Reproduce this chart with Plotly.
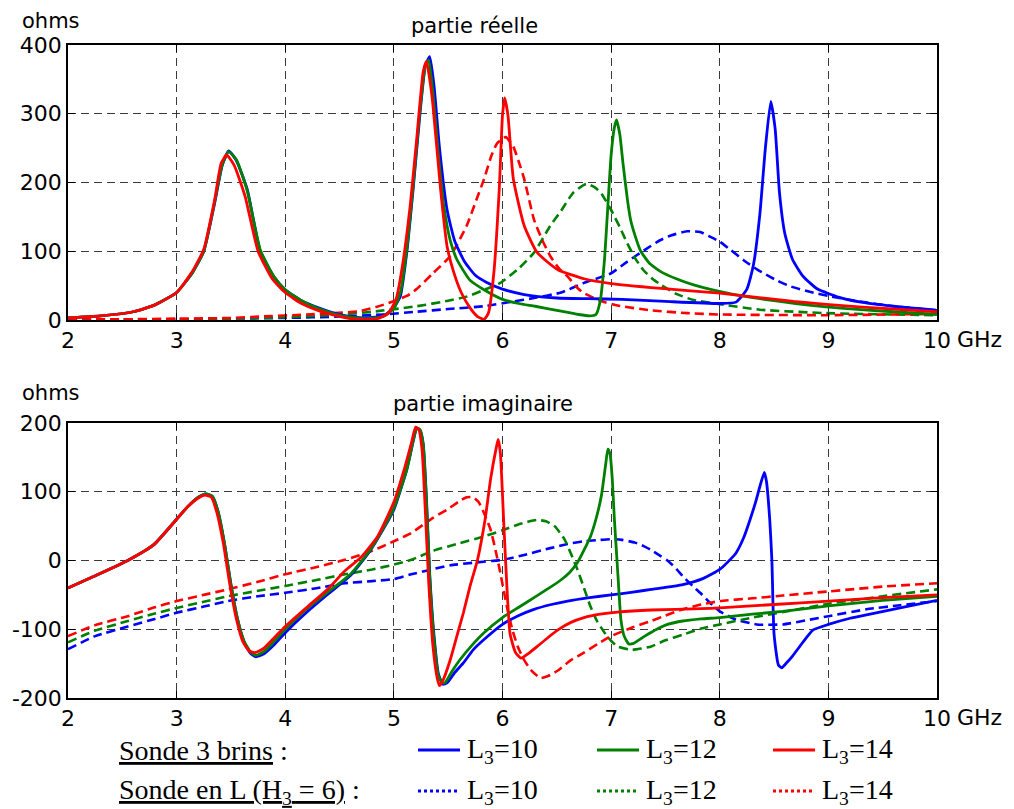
import plotly.graph_objects as go
from plotly.subplots import make_subplots

# ---------------- data: real part (ohms) ----------------
re_b10_x = [2.0, 2.3, 2.6, 2.8, 3.0, 3.15, 3.25, 3.35, 3.42, 3.48, 3.55, 3.65, 3.77, 3.9, 4.0, 4.15, 4.3, 4.45, 4.6, 4.75, 4.9,
            5.0, 5.06, 5.12, 5.18, 5.24, 5.29, 5.33, 5.37, 5.42, 5.49, 5.56, 5.65, 5.75, 5.85, 6.0, 6.2, 6.5, 6.8, 7.1, 7.5,
            8.0, 8.15, 8.25, 8.31, 8.37, 8.42, 8.47, 8.51, 8.55, 8.6, 8.67, 8.77, 8.9, 9.1, 9.3, 9.6, 10.0]
re_b10_y = [3, 6, 12, 22, 40, 70, 100, 170, 225, 246, 232, 190, 100, 62, 44, 28, 18, 10, 5, 3, 6,
            18, 35, 100, 195, 300, 370, 383, 340, 250, 160, 115, 85, 65, 55, 45, 37, 32, 31, 30, 27,
            24, 26, 45, 80, 155, 250, 318, 278, 185, 125, 88, 63, 45, 33, 26, 20, 14]

re_g12_x = [2.0, 2.3, 2.6, 2.8, 3.0, 3.15, 3.25, 3.35, 3.42, 3.48, 3.55, 3.65, 3.77, 3.9, 4.0, 4.15, 4.3, 4.45, 4.6, 4.75, 4.9,
            5.0, 5.06, 5.12, 5.18, 5.24, 5.29, 5.32, 5.36, 5.41, 5.46, 5.52, 5.58, 5.7, 5.83, 6.0, 6.15, 6.3, 6.5, 6.7, 6.8,
            6.86, 6.9, 6.94, 6.97, 7.0, 7.03, 7.05, 7.08, 7.11, 7.15, 7.18, 7.23, 7.27, 7.35, 7.46, 7.6, 7.76, 8.07, 8.37,
            8.7, 8.98, 9.3, 9.6, 10.0]
re_g12_y = [3, 6, 12, 22, 40, 70, 100, 172, 226, 245, 233, 188, 102, 62, 44, 28, 17, 9, 4, 2, 5,
            17, 40, 105, 200, 305, 370, 378, 330, 240, 166, 115, 88, 58, 44, 30, 24, 20, 14, 8, 6,
            8, 28, 90, 166, 240, 280, 291, 270, 227, 175, 145, 118, 101, 83, 70, 60, 51, 39, 31,
            24, 19, 15, 12, 8]

re_r14_x = [2.0, 2.3, 2.6, 2.8, 3.0, 3.15, 3.25, 3.35, 3.41, 3.46, 3.53, 3.63, 3.75, 3.88, 4.0, 4.15, 4.3, 4.45, 4.6, 4.75,
            4.85, 4.95, 5.02, 5.08, 5.15, 5.21, 5.27, 5.30, 5.33, 5.36, 5.43, 5.49, 5.55, 5.62, 5.7, 5.77, 5.83, 5.87, 5.92,
            5.97, 6.0, 6.02, 6.05, 6.1, 6.2, 6.32, 6.51, 6.75, 7.0, 7.46, 8.0, 8.68, 9.28, 10.0]
re_r14_y = [3, 6, 12, 22, 40, 72, 103, 175, 228, 240, 225, 180, 100, 60, 40, 24, 14, 7, 2, 1,
            2, 10, 30, 80, 166, 263, 361, 376, 350, 312, 190, 107, 70, 40, 18, 5, 1, 10, 68,
            190, 298, 323, 298, 205, 137, 98, 73, 60, 53, 46, 39, 27, 19, 12]

re_b10d_x = [2.0, 2.5, 3.0, 3.5, 4.0, 4.5, 4.9, 5.21, 5.5, 5.83, 6.1, 6.29, 6.54, 6.75, 7.0, 7.15, 7.3, 7.45, 7.55, 7.7,
             7.82, 7.9, 8.0, 8.1, 8.22, 8.35, 8.52, 8.65, 8.83, 9.0, 9.28, 9.6, 10.0]
re_b10d_y = [1, 1, 1, 2, 3, 5, 8, 12, 16, 20, 27, 32, 40, 54, 68, 85, 101, 116, 123, 129,
             128, 122, 114, 102, 87, 73, 58, 49, 41, 35, 27, 20, 14]

re_g12d_x = [2.0, 2.5, 3.0, 3.5, 4.0, 4.5, 4.8, 5.21, 5.5, 5.67, 5.85, 5.98, 6.15, 6.29, 6.44, 6.54, 6.65, 6.77, 6.85,
             6.91, 7.0, 7.08, 7.15, 7.22, 7.3, 7.38, 7.46, 7.6, 7.76, 8.0, 8.37, 8.98, 10.0]
re_g12d_y = [1, 1, 1, 2, 4, 8, 12, 20, 28, 34, 45, 54, 75, 98, 137, 159, 185, 198, 193,
             184, 160, 135, 111, 90, 72, 60, 51, 38, 29, 23, 15, 10, 7]

re_r14d_x = [2.0, 2.5, 3.0, 3.5, 3.77, 4.2, 4.69, 4.9, 5.12, 5.21, 5.36, 5.52, 5.67, 5.76, 5.83, 5.9, 5.95, 6.03, 6.1,
             6.15, 6.2, 6.29, 6.37, 6.44, 6.52, 6.6, 6.7, 6.75, 6.9, 7.06, 7.37, 7.7, 8.0, 9.0, 10.0]
re_r14d_y = [1, 1, 2, 3, 5, 8, 13, 22, 35, 45, 68, 93, 137, 175, 205, 240, 257, 266, 252,
             230, 205, 146, 115, 93, 75, 63, 45, 39, 28, 21, 14, 10, 8, 7, 9]

# ---------------- data: imaginary part (ohms) ----------------
im_b10_x = [2.0, 2.24, 2.55, 2.79, 3.0, 3.1, 3.2, 3.27, 3.33, 3.38, 3.44, 3.5, 3.56, 3.62, 3.68, 3.73, 3.8, 3.9, 4.0, 4.2,
            4.4, 4.6, 4.78, 4.9, 5.0, 5.12, 5.18, 5.21, 5.24, 5.27, 5.30, 5.33, 5.37, 5.41, 5.45, 5.49, 5.56, 5.64, 5.73,
            5.83, 6.0, 6.15, 6.29, 6.45, 6.6, 6.8, 7.0, 7.2, 7.37, 7.66, 7.85, 8.0, 8.1, 8.15, 8.22, 8.28, 8.33, 8.37,
            8.41, 8.43, 8.46, 8.48, 8.5, 8.54, 8.57, 8.62, 8.67, 8.76, 8.86, 9.0, 9.2, 9.35, 9.66, 10.0]
im_b10_y = [-40, -23, 0, 23, 60, 78, 92, 97, 93, 72, 25, -35, -85, -118, -135, -140, -136, -122, -105, -75,
            -48, -22, 14, 45, 74, 133, 175, 192, 190, 170, 90, -20, -110, -165, -180, -178, -163, -149, -130,
            -115, -93, -80, -71, -64, -59, -54, -50, -46, -42, -35, -26, -13, 2, 11, 33, 60, 85, 108,
            128, 115, 60, 0, -107, -152, -156, -148, -139, -120, -101, -93, -84, -79, -69, -58]

im_g12_x = [2.0, 2.24, 2.55, 2.79, 3.0, 3.1, 3.2, 3.27, 3.33, 3.38, 3.44, 3.5, 3.56, 3.62, 3.68, 3.73, 3.8, 3.9, 4.0, 4.2,
            4.4, 4.6, 4.78, 4.9, 5.0, 5.12, 5.18, 5.21, 5.24, 5.27, 5.3, 5.33, 5.37, 5.41, 5.45, 5.47, 5.54, 5.61, 5.72,
            5.83, 6.0, 6.15, 6.29, 6.42, 6.54, 6.62, 6.69, 6.75, 6.81, 6.86, 6.91, 6.95, 6.97, 6.99, 7.01, 7.03, 7.05,
            7.07, 7.09, 7.12, 7.16, 7.2, 7.31, 7.42, 7.52, 7.66, 7.83, 8.0, 8.3, 8.58, 9.0, 9.5, 10.0]
im_g12_y = [-40, -23, 0, 23, 60, 78, 92, 97, 93, 72, 25, -35, -85, -117, -133, -138, -133, -117, -100, -70,
            -45, -20, 15, 46, 76, 133, 176, 193, 190, 168, 85, -25, -115, -168, -178, -178, -160, -144, -123,
            -105, -83, -68, -54, -41, -28, -17, -3, 15, 35, 60, 94, 140, 162, 155, 120, 60, 10,
            -40, -86, -110, -121, -121, -110, -100, -93, -88, -85, -83, -78, -74, -66, -58, -52]

im_r14_x = [2.0, 2.24, 2.55, 2.79, 3.0, 3.1, 3.2, 3.26, 3.32, 3.37, 3.43, 3.49, 3.55, 3.61, 3.67, 3.72, 3.8, 3.9, 4.0,
            4.2, 4.39, 4.55, 4.7, 4.85, 5.0, 5.1, 5.16, 5.2, 5.23, 5.26, 5.29, 5.32, 5.36, 5.4, 5.42, 5.45, 5.52, 5.58,
            5.64, 5.7, 5.77, 5.84, 5.89, 5.94, 5.96, 5.98, 6.01, 6.04, 6.07, 6.12, 6.17, 6.25, 6.32, 6.42, 6.51, 6.63,
            6.75, 6.9, 7.06, 7.37, 7.83, 8.0, 8.5, 9.0, 9.5, 10.0]
im_r14_y = [-40, -23, 0, 23, 60, 78, 91, 95, 92, 70, 25, -35, -85, -118, -132, -134, -128, -112, -96,
            -68, -42, -15, 5, 35, 85, 135, 170, 194, 190, 160, 70, -30, -125, -172, -182, -175, -144, -110,
            -76, -38, 1, 60, 118, 162, 176, 157, 60, -37, -107, -134, -142, -134, -125, -112, -101, -90,
            -83, -78, -75, -72, -70, -69, -64, -59, -54, -50]

im_b10d_x = [2.0, 2.25, 2.55, 2.8, 3.0, 3.25, 3.47, 3.75, 4.0, 4.3, 4.55, 4.8, 5.0, 5.16, 5.35, 5.52, 5.75, 6.0, 6.2,
             6.44, 6.6, 6.75, 6.9, 7.0, 7.1, 7.22, 7.3, 7.36, 7.46, 7.51, 7.6, 7.66, 7.75, 7.82, 7.9, 8.0, 8.15, 8.34,
             8.58, 8.83, 9.0, 9.35, 9.66, 10.0]
im_b10d_y = [-129, -110, -96, -85, -76, -67, -59, -52, -47, -40, -33, -30, -27, -20, -13, -7, -3, 1, 8,
             18, 24, 28, 30, 31, 30, 26, 21, 16, 6, 1, -12, -23, -37, -47, -60, -74, -86, -93,
             -93, -86, -81, -71, -65, -59]

im_g12d_x = [2.0, 2.25, 2.55, 2.8, 3.0, 3.25, 3.47, 3.75, 4.0, 4.3, 4.55, 4.8, 5.0, 5.16, 5.36, 5.6, 5.83, 6.0, 6.14,
             6.25, 6.32, 6.4, 6.48, 6.57, 6.63, 6.69, 6.75, 6.81, 6.87, 6.94, 7.0, 7.06, 7.19, 7.28, 7.37, 7.5, 7.66,
             7.83, 8.0, 8.3, 8.58, 9.0, 9.5, 10.0]
im_g12d_y = [-119, -102, -88, -77, -69, -60, -52, -44, -37, -28, -20, -13, -6, 1, 14, 25, 35, 44, 52,
             57, 59, 57, 50, 31, 10, -13, -40, -67, -88, -105, -117, -125, -130, -128, -125, -116, -108,
             -99, -93, -83, -75, -63, -52, -42]

im_r14d_x = [2.0, 2.25, 2.55, 2.8, 3.0, 3.25, 3.47, 3.75, 4.0, 4.3, 4.55, 4.8, 5.0, 5.16, 5.36, 5.5, 5.6, 5.67, 5.73,
             5.78, 5.83, 5.89, 5.94, 5.98, 6.04, 6.09, 6.14, 6.2, 6.26, 6.35, 6.42, 6.51, 6.62, 6.75, 6.88, 7.0, 7.2,
             7.37, 7.5, 7.66, 7.83, 8.0, 8.3, 8.58, 9.0, 9.5, 10.0]
im_r14d_y = [-110, -94, -81, -68, -59, -50, -42, -31, -20, -9, 1, 14, 28, 40, 62, 75, 86, 92, 92,
             85, 69, 45, 12, -18, -67, -100, -125, -145, -159, -171, -168, -160, -146, -134, -121, -110, -97,
             -88, -80, -71, -64, -59, -55, -51, -45, -38, -33]

x_ticks = [2, 3, 4, 5, 6, 7, 8, 9, 10]
re_ticks = [0, 100, 200, 300, 400]
im_ticks = [-200, -100, 0, 100, 200]
legend_labels = ["L<sub>3</sub>=10", "L<sub>3</sub>=12", "L<sub>3</sub>=14"]
row_labels = ["Sonde 3 brins", "Sonde en L (H<sub>3</sub> = 6)"]

BLUE, GREEN, RED = "#0000ff", "#008000", "#ff0000"

# page body has an 8px margin: the figure is sized so that it fills the window
OFF = 8
W, H = 1014 - OFF, 809 - OFF
ML, MR, MT, MB = 60, 77, 37, 111
PW, PH = W - ML - MR, H - MT - MB


def px(xs):
    """screen x pixel -> paper x"""
    return (xs - OFF - ML) / PW


def py(ys):
    """screen y pixel -> paper y"""
    return (H - MB - (ys - OFF)) / PH


fig = make_subplots(rows=2, cols=1, vertical_spacing=0.158)

DASH = "9px,5px"
solid = [(re_b10_x, re_b10_y, BLUE), (re_g12_x, re_g12_y, GREEN), (re_r14_x, re_r14_y, RED)]
dashed = [(re_b10d_x, re_b10d_y, BLUE), (re_g12d_x, re_g12d_y, GREEN), (re_r14d_x, re_r14d_y, RED)]
solid2 = [(im_b10_x, im_b10_y, BLUE), (im_g12_x, im_g12_y, GREEN), (im_r14_x, im_r14_y, RED)]
dashed2 = [(im_b10d_x, im_b10d_y, BLUE), (im_g12d_x, im_g12d_y, GREEN), (im_r14d_x, im_r14d_y, RED)]

for row, (sol, das) in enumerate([(solid, dashed), (solid2, dashed2)], start=1):
    for xs, ys, c in das:
        fig.add_trace(go.Scatter(x=xs, y=ys, mode="lines",
                                 line=dict(color=c, width=2.6, dash=DASH, shape="spline", smoothing=0.5),
                                 showlegend=False), row=row, col=1)
    for xs, ys, c in sol:
        fig.add_trace(go.Scatter(x=xs, y=ys, mode="lines",
                                 line=dict(color=c, width=2.8, shape="spline", smoothing=0.5),
                                 showlegend=False), row=row, col=1)

axfont = dict(family="DejaVu Sans, Arial, sans-serif", size=22, color="black")
common = dict(showline=True, linecolor="black", linewidth=1.5, mirror="ticks", ticks="inside", ticklen=7,
              tickcolor="black", showgrid=True, gridcolor="#3a3a3a", gridwidth=1, griddash="8px,5px",
              zeroline=False, tickfont=axfont)

fig.update_xaxes(range=[2, 10], tickvals=x_ticks, ticktext=[str(v) for v in x_ticks], **common)
fig.update_yaxes(row=1, col=1, range=[0, 400], tickvals=re_ticks,
                 ticktext=[str(v) for v in re_ticks], **common)
fig.update_yaxes(row=2, col=1, range=[-200, 200], tickvals=im_ticks,
                 ticktext=[str(v) for v in im_ticks], **common)

fig.update_layout(yaxis=dict(domain=[py(320), py(45)]), yaxis2=dict(domain=[py(698), py(423)]))

ann = []
lab = dict(family="DejaVu Sans, Arial, sans-serif", size=21, color="black")
ann.append(dict(x=px(20), y=py(21), text="ohms", xanchor="left", yanchor="middle", font=lab))
ann.append(dict(x=px(20), y=py(393), text="ohms", xanchor="left", yanchor="middle", font=lab))
ann.append(dict(x=px(474), y=py(26), text="partie réelle", xanchor="center", yanchor="middle", font=lab))
ann.append(dict(x=px(483), y=py(404), text="partie imaginaire", xanchor="center", yanchor="middle", font=lab))
ann.append(dict(x=px(955), y=py(339), text="GHz", xanchor="left", yanchor="middle", font=axfont))
ann.append(dict(x=px(955), y=py(717), text="GHz", xanchor="left", yanchor="middle", font=axfont))

serif = dict(family="Liberation Serif, Times New Roman, serif", size=28, color="black")
rows_y = [750, 791]
for i, r in enumerate(row_labels):
    ann.append(dict(x=px(117), y=py(rows_y[i]), text=f'<span style="text-decoration:underline">{r}</span> :',
                    xanchor="left", yanchor="middle", font=serif))

shapes = []
sample_x = [(418, 460), (597, 639), (773, 815)]
colors = [BLUE, GREEN, RED]
for i in range(2):
    for j in range(3):
        x0, x1 = sample_x[j]
        shapes.append(dict(type="line", xref="paper", yref="paper", x0=px(x0), x1=px(x1),
                           y0=py(rows_y[i]), y1=py(rows_y[i]),
                           line=dict(color=colors[j], width=3, dash="solid" if i == 0 else "dot")))
        ann.append(dict(x=px(x1 + 5), y=py(rows_y[i]), text=legend_labels[j], xanchor="left",
                        yanchor="middle", font=serif))

for a in ann:
    a.update(xref="paper", yref="paper", showarrow=False)

fig.update_layout(width=W, height=H, margin=dict(l=ML, r=MR, t=MT, b=MB, autoexpand=False),
                  paper_bgcolor="white", plot_bgcolor="white", annotations=ann, shapes=shapes,
                  showlegend=False)

fig.write_html("out.html")
